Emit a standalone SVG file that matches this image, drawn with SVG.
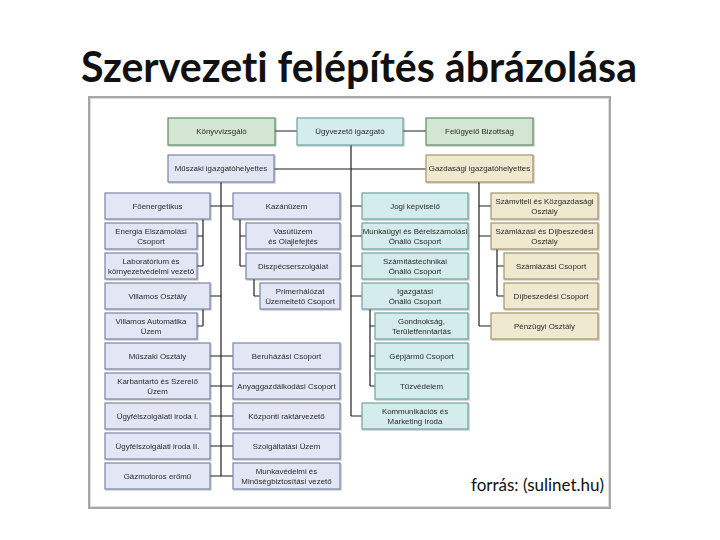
<svg xmlns="http://www.w3.org/2000/svg" width="720" height="540" viewBox="0 0 720 540">
<style>
.bx{stroke-width:1.2}
.g{fill:#d3e6d3;stroke:#5f8f63}
.c{fill:#d4ecec;stroke:#6fa3a3}
.l{fill:#e3e6f5;stroke:#7c84a6}
.y{fill:#efe9cf;stroke:#a3956a}
.t{font-family:"Liberation Sans",Arial,sans-serif;font-size:7.9px;fill:#2a2a2a;text-anchor:middle}
.ln{stroke:#1f1f1f;stroke-width:1.2;fill:none}
</style>
<defs>
<filter id="sh" x="-5%" y="-10%" width="115%" height="130%">
<feDropShadow dx="1" dy="1" stdDeviation="0.6" flood-color="#000" flood-opacity="0.25"/>
</filter>
</defs>
<rect width="720" height="540" fill="#fff"/>
<text x="359" y="82" font-family="Lato,'Open Sans',sans-serif" font-weight="bold" font-size="42" text-anchor="middle" fill="#111" style="font-variant-ligatures:none" textLength="556" lengthAdjust="spacingAndGlyphs">Szervezeti felépítés ábrázolása</text>
<rect x="89" y="97" width="521" height="411" fill="#fff" stroke="#a6a6a6" stroke-width="2"/>
<rect x="90.5" y="98.5" width="518" height="408" fill="none" stroke="#dcdcdc" stroke-width="1"/>

<g id="connectors">
<path class="ln" d="M275 131H297M403 131H426M274 169H426"/>
<path class="ln" d="M351 145V416M221 182V476M479 182V326"/>
<path class="ln" d="M210 206H233M210 296H221M210 356H233M210 386H233M210 416H233M210 446H233M210 476H233"/>
<path class="ln" d="M203 219V266M197 236H203M197 266H203M203 309V326M197 326H203"/>
<path class="ln" d="M240 219V266M240 236H246M240 266H246M254 279V296M254 296H260"/>
<path class="ln" d="M351 206H362M351 236H362M351 266H362M351 296H362M351 416H362"/>
<path class="ln" d="M370 309V386M370 326H375M370 356H375M370 386H375"/>
<path class="ln" d="M479 206H491M479 236H491M479 326H491"/>
<path class="ln" d="M497 249V296M497 266H504M497 296H504"/>
</g>

<g filter="url(#sh)">
<g id="konyvvizsgalo"><rect class="bx g" x="168" y="118" width="107" height="27"/><text class="t" x="221.5" y="134.3">Könyvvizsgáló</text></g>
<g id="ugyvezeto"><rect class="bx c" x="297" y="118" width="106" height="27"/><text class="t" x="350" y="134.3">Ügyvezető igazgató</text></g>
<g id="felugyelo"><rect class="bx g" x="426" y="118" width="107" height="27"/><text class="t" x="479.5" y="134.3">Felügyelő Bizottság</text></g>
<g id="muszaki-ig"><rect class="bx l" x="168" y="155" width="106" height="27"/><text class="t" x="221" y="171.3">Műszaki igazgatóhelyettes</text></g>
<g id="gazdasagi-ig"><rect class="bx y" x="426" y="155" width="107" height="27"/><text class="t" x="479.5" y="171.3">Gazdasági igazgatóhelyettes</text></g>

<g id="foenergetikus"><rect class="bx l" x="105" y="193" width="105" height="26"/><text class="t" x="157.5" y="208.8">Főenergetikus</text></g>
<g id="energia"><rect class="bx l" x="105" y="223" width="92" height="26"/><text class="t" x="151" y="233.8">Energia Elszámolási</text><text class="t" x="151" y="243.8">Csoport</text></g>
<g id="laboratorium"><rect class="bx l" x="105" y="253" width="92" height="26"/><text class="t" x="151" y="263.8">Laboratórium és</text><text class="t" x="151" y="273.8" textLength="86" lengthAdjust="spacingAndGlyphs">környezetvédelmi vezető</text></g>
<g id="villamos"><rect class="bx l" x="105" y="283" width="105" height="26"/><text class="t" x="157.5" y="298.8">Villamos Osztály</text></g>
<g id="villamos-auto"><rect class="bx l" x="105" y="313" width="92" height="26"/><text class="t" x="151" y="323.8">Villamos Automatika</text><text class="t" x="151" y="333.8">Üzem</text></g>
<g id="muszaki-oszt"><rect class="bx l" x="105" y="343" width="105" height="26"/><text class="t" x="157.5" y="358.8">Műszaki Osztály</text></g>
<g id="karbantarto"><rect class="bx l" x="105" y="373" width="105" height="26"/><text class="t" x="157.5" y="383.8">Karbantartó és Szerelő</text><text class="t" x="157.5" y="393.8">Üzem</text></g>
<g id="ugyfel1"><rect class="bx l" x="105" y="403" width="105" height="26"/><text class="t" x="157.5" y="418.8">Ügyfélszolgálati iroda I.</text></g>
<g id="ugyfel2"><rect class="bx l" x="105" y="433" width="105" height="26"/><text class="t" x="157.5" y="448.8">Ügyfélszolgálati iroda II.</text></g>
<g id="gazmotoros"><rect class="bx l" x="105" y="463" width="105" height="26"/><text class="t" x="157.5" y="478.8">Gázmotoros erőmű</text></g>

<g id="kazanuzem"><rect class="bx l" x="233" y="193" width="107" height="26"/><text class="t" x="286.5" y="208.8">Kazánüzem</text></g>
<g id="vasutuzem"><rect class="bx l" x="246" y="223" width="94" height="26"/><text class="t" x="293" y="233.8">Vasútüzem</text><text class="t" x="293" y="243.8">és Olajlefejtés</text></g>
<g id="diszpecser"><rect class="bx l" x="246" y="253" width="94" height="26"/><text class="t" x="293" y="268.8">Diszpécserszolgálat</text></g>
<g id="primerhalozat"><rect class="bx l" x="260" y="283" width="80" height="26"/><text class="t" x="300" y="293.8">Primerhálózat</text><text class="t" x="300" y="303.8">Üzemeltető Csoport</text></g>
<g id="beruhazasi"><rect class="bx l" x="233" y="343" width="107" height="26"/><text class="t" x="286.5" y="358.8">Beruházási Csoport</text></g>
<g id="anyaggazd"><rect class="bx l" x="233" y="373" width="107" height="26"/><text class="t" x="286.5" y="388.8">Anyaggazdálkodási Csoport</text></g>
<g id="kozponti"><rect class="bx l" x="233" y="403" width="107" height="26"/><text class="t" x="286.5" y="418.8">Központi raktárvezető</text></g>
<g id="szolgaltatasi"><rect class="bx l" x="233" y="433" width="107" height="26"/><text class="t" x="286.5" y="448.8">Szolgáltatási Üzem</text></g>
<g id="munkavedelmi"><rect class="bx l" x="233" y="463" width="107" height="26"/><text class="t" x="286.5" y="473.8">Munkavédelmi és</text><text class="t" x="286.5" y="483.8">Minőségbiztosítási vezető</text></g>

<g id="jogi"><rect class="bx c" x="362" y="193" width="106" height="26"/><text class="t" x="415" y="208.8">Jogi képviselő</text></g>
<g id="munkaugyi"><rect class="bx c" x="362" y="223" width="106" height="26"/><text class="t" x="415" y="233.8">Munkaügyi és Bérelszámolási</text><text class="t" x="415" y="243.8">Önálló Csoport</text></g>
<g id="szamitastechnikai"><rect class="bx c" x="362" y="253" width="106" height="26"/><text class="t" x="415" y="263.8">Számítástechnikai</text><text class="t" x="415" y="273.8">Önálló Csoport</text></g>
<g id="igazgatasi"><rect class="bx c" x="362" y="283" width="106" height="26"/><text class="t" x="415" y="293.8">Igazgatási</text><text class="t" x="415" y="303.8">Önálló Csoport</text></g>
<g id="gondnoksag"><rect class="bx c" x="375" y="313" width="93" height="26"/><text class="t" x="421.5" y="323.8">Gondnokság,</text><text class="t" x="421.5" y="333.8">Területfenntartás</text></g>
<g id="gepjarmu"><rect class="bx c" x="375" y="343" width="93" height="26"/><text class="t" x="421.5" y="358.8">Gépjármű Csoport</text></g>
<g id="tuzvedelem"><rect class="bx c" x="375" y="373" width="93" height="26"/><text class="t" x="421.5" y="388.8">Tűzvédelem</text></g>
<g id="kommunikacios"><rect class="bx c" x="362" y="403" width="106" height="26"/><text class="t" x="415" y="413.8">Kommunikációs és</text><text class="t" x="415" y="423.8">Marketing Iroda</text></g>

<g id="szamviteli"><rect class="bx y" x="491" y="193" width="107" height="26"/><text class="t" x="544.5" y="203.8">Számviteli és Közgazdasági</text><text class="t" x="544.5" y="213.8">Osztály</text></g>
<g id="szamlazasi-oszt"><rect class="bx y" x="491" y="223" width="107" height="26"/><text class="t" x="544.5" y="233.8">Számlázási és Díjbeszedési</text><text class="t" x="544.5" y="243.8">Osztály</text></g>
<g id="szamlazasi-cs"><rect class="bx y" x="504" y="253" width="94" height="26"/><text class="t" x="551" y="268.8">Számlázási Csoport</text></g>
<g id="dijbeszedesi"><rect class="bx y" x="504" y="283" width="94" height="26"/><text class="t" x="551" y="298.8">Díjbeszedési Csoport</text></g>
<g id="penzugyi"><rect class="bx y" x="491" y="313" width="107" height="26"/><text class="t" x="544.5" y="328.8">Pénzügyi Osztály</text></g>
</g>

<text x="604" y="491" font-family="Lato,'Open Sans',sans-serif" font-size="17" text-anchor="end" fill="#111">forrás: (sulinet.hu)</text>
</svg>
